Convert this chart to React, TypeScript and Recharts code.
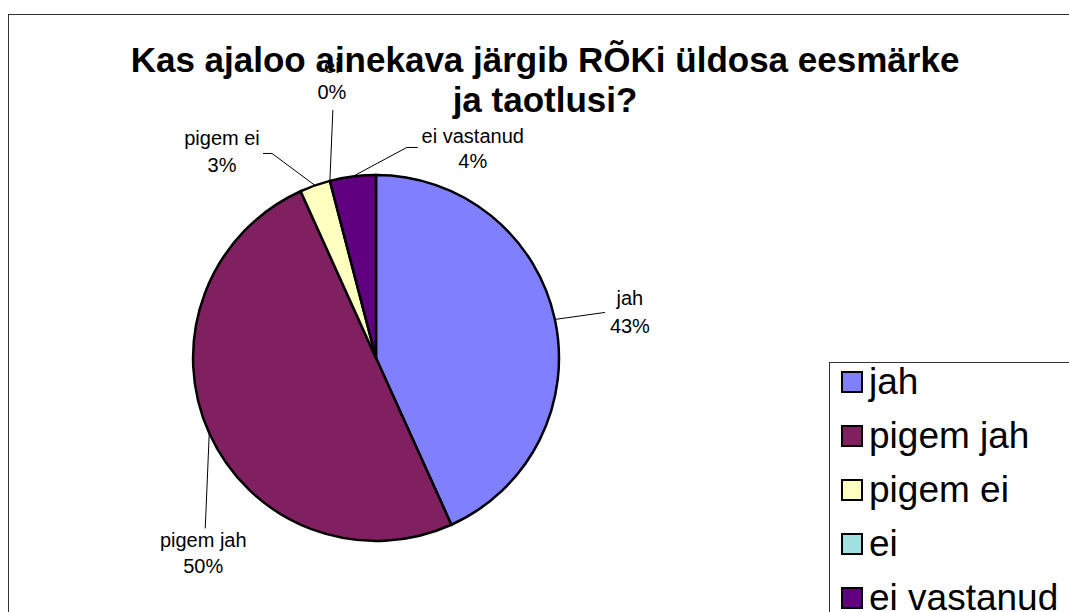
import { PieChart, Pie, Cell, Legend } from 'recharts';

// survey answers (counts), shown as shares of the pie
const categories = ['jah', 'pigem jah', 'pigem ei', 'ei', 'ei vastanud'];
const answerCounts = [32, 37, 2, 0, 3];
const sliceColors = ['#8080FF', '#802060', '#FFFFC0', '#A0E0E0', '#600080'];
const titleLines = ['Kas ajaloo ainekava järgib RÕKi üldosa eesmärke', 'ja taotlusi?'];

const FONT = '"Liberation Sans", Arial, sans-serif';

// leader line bends and text placement, relative to the slice's outer edge point
const labelLayout: Record<string, { line: number[][]; tx: number; ty1: number; ty2: number }> = {
  'jah': { line: [[50, -7]], tx: 75, ty1: -14, ty2: 14 },
  'pigem jah': { line: [[-4, 95]], tx: -6, ty1: 114, ty2: 140 },
  'pigem ei': { line: [[-43, -32], [-52, -32]], tx: -93, ty1: -40, ty2: -13 },
  'ei': { line: [[3, -71]], tx: 2, ty1: -108, ty2: -82 },
  'ei vastanud': { line: [[54, -29], [65, -29]], tx: 120, ty1: -33, ty2: -8 },
};

const RADIAN = Math.PI / 180;

function renderLabel(props: any) {
  const { cx, cy, midAngle, outerRadius, index, percent } = props;
  const name = categories[index];
  const lay = labelLayout[name];
  const x0 = cx + outerRadius * Math.cos(-midAngle * RADIAN);
  const y0 = cy + outerRadius * Math.sin(-midAngle * RADIAN);
  const pts = [[x0, y0], ...lay.line.map(([dx, dy]) => [x0 + dx, y0 + dy])];
  return (
    <g key={`lbl-${index}`}>
      <polyline points={pts.map((p) => p.join(',')).join(' ')} stroke="#000" strokeWidth={1} fill="none" />
      <text x={x0 + lay.tx} y={y0 + lay.ty1} textAnchor="middle" fontFamily={FONT} fontSize={20} fill="#000">
        {name}
      </text>
      <text x={x0 + lay.tx} y={y0 + lay.ty2} textAnchor="middle" fontFamily={FONT} fontSize={20} fill="#000">
        {`${Math.round(percent * 100)}%`}
      </text>
    </g>
  );
}

function renderLegend(props: any) {
  // keep the legend in data order, not alphabetical
  const payload = [...(props.payload || [])].sort(
    (a: any, b: any) => categories.indexOf(a.value) - categories.indexOf(b.value)
  );
  return (
    <div style={{ fontFamily: FONT }}>
      {payload.map((entry: any, i: number) => {
        const idx = categories.indexOf(entry.value);
        return (
          <div key={`leg-${i}`} style={{ height: 54, display: 'flex', alignItems: 'center', whiteSpace: 'nowrap' }}>
            <span
              style={{
                width: 22,
                height: 22,
                boxSizing: 'border-box',
                border: '2px solid #000',
                background: sliceColors[idx],
                display: 'inline-block',
                flexShrink: 0,
              }}
            />
            <span style={{ fontSize: 37, marginLeft: 6, color: '#000', lineHeight: '54px' }}>{entry.value}</span>
          </div>
        );
      })}
    </div>
  );
}

export default function App() {
  const data = categories.map((name, i) => ({ name, value: answerCounts[i] }));

  return (
    <div
      style={{
        position: 'absolute',
        left: 0,
        top: 0,
        width: 1069,
        height: 612,
        overflow: 'hidden',
        background: '#fff',
      }}
    >
      {/* chart area frame, runs off the right and bottom edges */}
      <div
        style={{
          position: 'absolute',
          left: 8,
          top: 14,
          width: 1200,
          height: 800,
          border: '1.5px solid #333',
        }}
      />
      {/* legend box */}
      <div
        style={{
          position: 'absolute',
          left: 829,
          top: 362,
          width: 400,
          height: 400,
          border: '1.5px solid #333',
        }}
      />
      <div style={{ position: 'absolute', left: 0, top: 0 }}>
        <PieChart width={1069} height={612} margin={{ top: 0, right: 0, bottom: 0, left: 0 }}>
          <Pie
            data={data}
            dataKey="value"
            nameKey="name"
            cx={376}
            cy={358}
            outerRadius={183}
            startAngle={90}
            endAngle={-270}
            stroke="#000"
            strokeWidth={2.5}
            label={renderLabel}
            labelLine={false}
            isAnimationActive={false}
          >
            {data.map((d, i) => (
              <Cell key={d.name} fill={sliceColors[i]} />
            ))}
          </Pie>
          <Legend
            content={renderLegend}
            wrapperStyle={{ position: 'absolute', left: 841, top: 355, width: 228 }}
          />
        </PieChart>
      </div>
      <div
        style={{
          position: 'absolute',
          left: 0,
          top: 40,
          width: 1090,
          textAlign: 'center',
          fontFamily: FONT,
          fontWeight: 'bold',
          fontSize: 35,
          lineHeight: '40px',
          color: '#000',
        }}
      >
        {titleLines.map((t) => (
          <div key={t}>{t}</div>
        ))}
      </div>
    </div>
  );
}
